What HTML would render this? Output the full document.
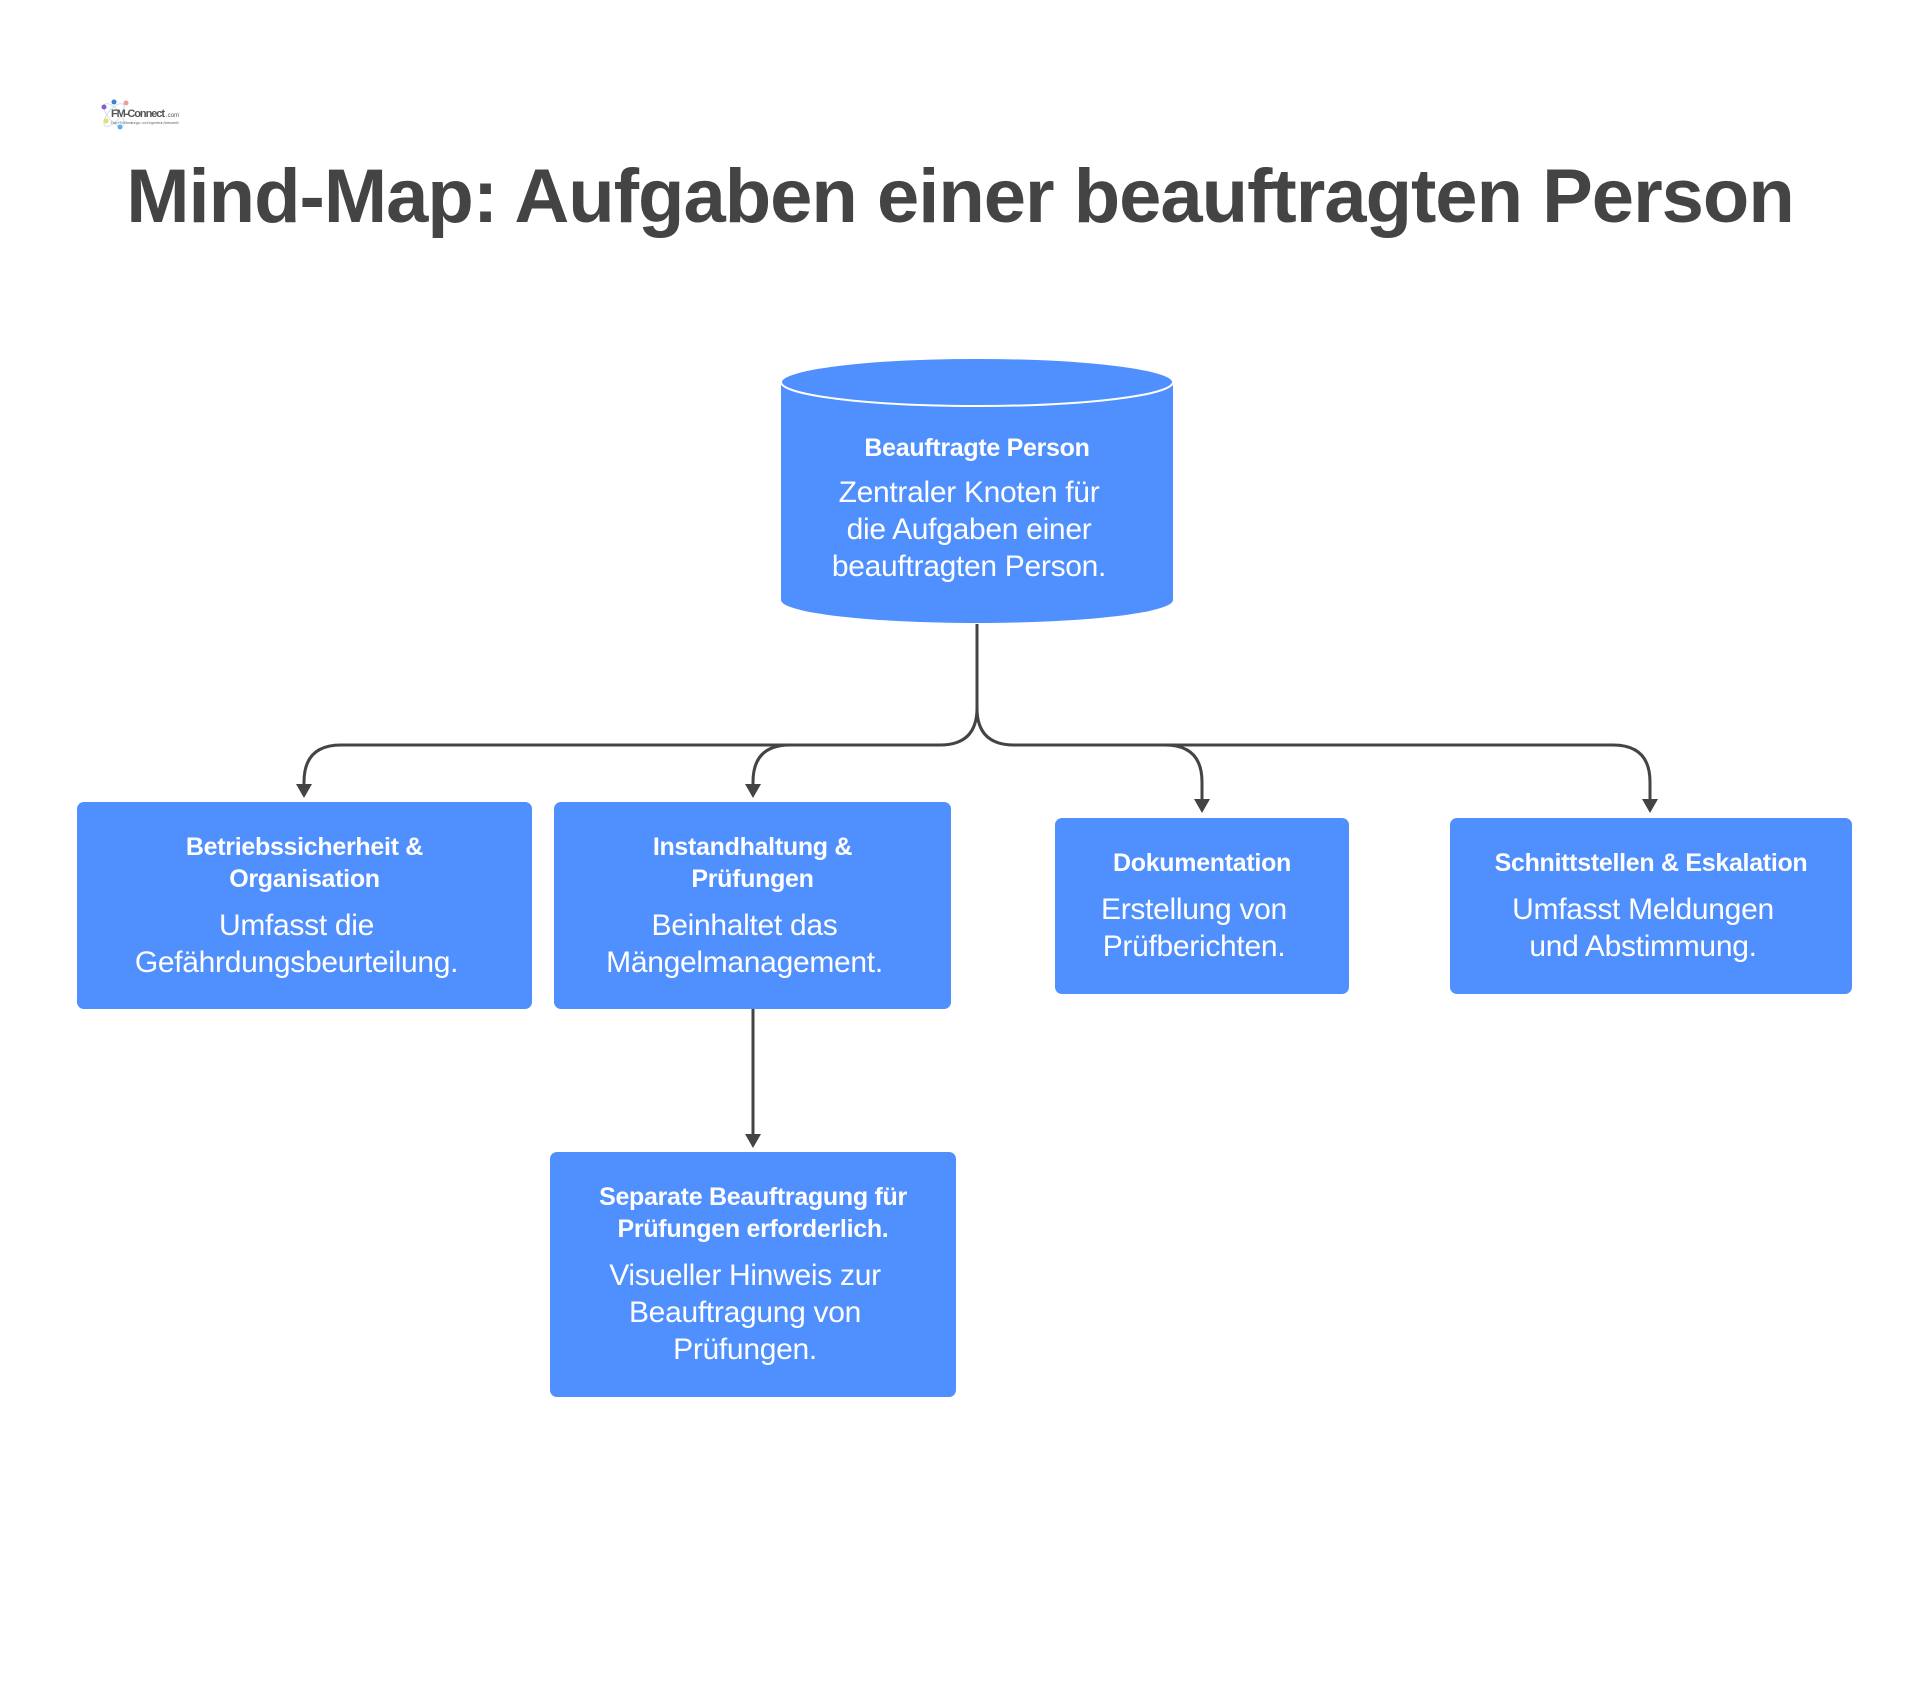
<!DOCTYPE html>
<html><head><meta charset="utf-8"><style>
body{margin:0;width:1920px;height:1690px;background:#fff;position:relative;font-family:"Liberation Sans",sans-serif;overflow:hidden}
.t{position:absolute;left:0;width:1920px;top:153px;text-align:center;font-weight:bold;font-size:76px;color:#444;letter-spacing:-1px}
.b{position:absolute;background:#4f8ffe;border-radius:7px;color:#fff;text-align:center;display:flex;flex-direction:column;align-items:center;justify-content:center}
.h{font-weight:bold;font-size:25px;line-height:32px;letter-spacing:-0.3px}
.p{font-size:30px;line-height:37px;margin-top:12px;letter-spacing:-0.3px;position:relative;left:-8px}
</style></head><body>
<div style="position:absolute;left:98px;top:93px;width:86px;height:42px">
<svg width="86" height="42"><ellipse cx="16" cy="22" rx="14" ry="6" fill="none" stroke="#cfe0f0" transform="rotate(50 16 22)"/><ellipse cx="16" cy="22" rx="14" ry="6" fill="none" stroke="#cfe0f0" transform="rotate(-50 16 22)"/><circle cx="6" cy="14" r="2.5" fill="#8a5bd0"/><circle cx="16" cy="9" r="2.5" fill="#3b7fd0"/><circle cx="28" cy="10" r="2.5" fill="#e8a0a0"/><circle cx="8" cy="28" r="2.5" fill="#e8e060"/><circle cx="22" cy="34" r="2.5" fill="#5bb0e0"/><text x="13" y="24" font-family="Liberation Sans" font-size="11" font-weight="bold" fill="#555" textLength="54">FM-Connect</text><text x="68" y="24" font-family="Liberation Sans" font-size="6" fill="#555">.com</text><text x="13" y="31" font-family="Liberation Sans" font-size="4" fill="#777" textLength="68">Das FM Beratungs- und Ingenieur-Netzwerk!</text></svg></div>
<div class="t">Mind-Map: Aufgaben einer beauftragten Person</div>
<svg width="1920" height="1690" style="position:absolute;left:0;top:0">
<path d="M781 382 V600 A196 23 0 0 0 1173 600 V382 Z" fill="#4f8ffe"/>
<ellipse cx="977" cy="382" rx="196" ry="24" fill="#4f8ffe" stroke="#fff" stroke-width="2"/>
<g fill="none" stroke="#444" stroke-width="3">
<path d="M977 624 V708 Q977 745 940 745 H341 Q304 745 304 782 V790"/>
<path d="M790 745 Q753 745 753 782 V790"/>
<path d="M977 708 Q977 745 1014 745 H1613 Q1650 745 1650 782 V805"/>
<path d="M1165 745 Q1202 745 1202 782 V805"/>
<path d="M753 1006 V1140"/>
</g>
<g fill="#444">
<path d="M296 784 L312 784 L304 798 Z"/><path d="M745 784 L761 784 L753 798 Z"/>
<path d="M1194 799 L1210 799 L1202 813 Z"/><path d="M1642 799 L1658 799 L1650 813 Z"/>
<path d="M745 1134 L761 1134 L753 1148 Z"/>
</g></svg>
<div class="b" style="left:781px;top:408px;width:392px;height:200px;background:transparent">
<div class="h">Beauftragte Person</div><div class="p" style="margin-top:10px">Zentraler Knoten für<br>die Aufgaben einer<br>beauftragten Person.</div></div>
<div class="b" style="left:77px;top:802px;width:455px;height:207px"><div class="h">Betriebssicherheit &amp;<br>Organisation</div><div class="p">Umfasst die<br>Gefährdungsbeurteilung.</div></div>
<div class="b" style="left:554px;top:802px;width:397px;height:207px"><div class="h">Instandhaltung &amp;<br>Prüfungen</div><div class="p">Beinhaltet das<br>Mängelmanagement.</div></div>
<div class="b" style="left:1055px;top:818px;width:294px;height:176px"><div class="h">Dokumentation</div><div class="p">Erstellung von<br>Prüfberichten.</div></div>
<div class="b" style="left:1450px;top:818px;width:402px;height:176px"><div class="h">Schnittstellen &amp; Eskalation</div><div class="p">Umfasst Meldungen<br>und Abstimmung.</div></div>
<div class="b" style="left:550px;top:1152px;width:406px;height:245px"><div class="h">Separate Beauftragung für<br>Prüfungen erforderlich.</div><div class="p">Visueller Hinweis zur<br>Beauftragung von<br>Prüfungen.</div></div>
</body></html>
